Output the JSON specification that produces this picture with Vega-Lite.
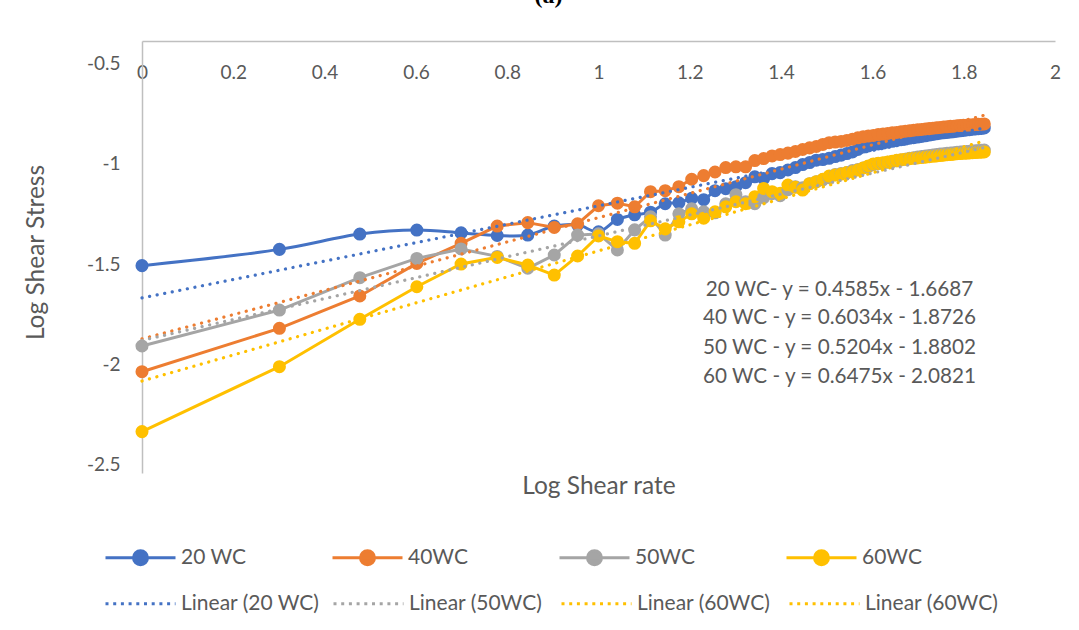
{
  "$schema": "https://vega.github.io/schema/vega-lite/v6.json",
  "width": 913,
  "height": 432,
  "autosize": {"type": "none"},
  "padding": {"left": 142, "top": 41, "right": 24, "bottom": 157},
  "background": "white",
  "title": {"text": "(a)", "font": "Liberation Serif", "fontWeight": "bold", "fontSize": 24, "color": "#000000", "anchor": "middle", "frame": "group", "dx": -50, "offset": 14, "baseline": "alphabetic"},
  "datasets": {
    "main": [
      {"x":0,"20 WC":-1.508,"40WC":-2.036,"50WC":-1.908,"60WC":-2.334},
      {"x":0.30103,"20 WC":-1.427,"40WC":-1.820,"50WC":-1.729,"60WC":-2.011},
      {"x":0.47712,"20 WC":-1.351,"40WC":-1.659,"50WC":-1.568,"60WC":-1.775},
      {"x":0.60206,"20 WC":-1.331,"40WC":-1.497,"50WC":-1.472,"60WC":-1.613},
      {"x":0.69897,"20 WC":-1.345,"40WC":-1.397,"50WC":-1.425,"60WC":-1.5},
      {"x":0.77815,"20 WC":-1.358,"40WC":-1.311,"50WC":-1.462,"60WC":-1.467},
      {"x":0.8451,"20 WC":-1.356,"40WC":-1.294,"50WC":-1.521,"60WC":-1.505},
      {"x":0.90309,"20 WC":-1.311,"40WC":-1.318,"50WC":-1.455,"60WC":-1.555},
      {"x":0.95424,"20 WC":-1.305,"40WC":-1.3,"50WC":-1.356,"60WC":-1.46},
      {"x":1,"20 WC":-1.34,"40WC":-1.21,"50WC":-1.35,"60WC":-1.36},
      {"x":1.04139,"20 WC":-1.278,"40WC":-1.197,"50WC":-1.43,"60WC":-1.389},
      {"x":1.07918,"20 WC":-1.255,"40WC":-1.215,"50WC":-1.33,"60WC":-1.397},
      {"x":1.11394,"20 WC":-1.242,"40WC":-1.14,"50WC":-1.265,"60WC":-1.285},
      {"x":1.14613,"20 WC":-1.2,"40WC":-1.135,"50WC":-1.356,"60WC":-1.325},
      {"x":1.17609,"20 WC":-1.195,"40WC":-1.115,"50WC":-1.25,"60WC":-1.29},
      {"x":1.20412,"20 WC":-1.173,"40WC":-1.078,"50WC":-1.225,"60WC":-1.25},
      {"x":1.23045,"20 WC":-1.18,"40WC":-1.06,"50WC":-1.24,"60WC":-1.272},
      {"x":1.25527,"20 WC":-1.135,"40WC":-1.042,"50WC":-1.245,"60WC":-1.24},
      {"x":1.27875,"20 WC":-1.125,"40WC":-1.02,"50WC":-1.2,"60WC":-1.215},
      {"x":1.30103,"20 WC":-1.115,"40WC":-1.016,"50WC":-1.155,"60WC":-1.19},
      {"x":1.32222,"20 WC":-1.095,"40WC":-1.016,"50WC":-1.19,"60WC":-1.2},
      {"x":1.34242,"20 WC":-1.066,"40WC":-0.985,"50WC":-1.2,"60WC":-1.165},
      {"x":1.36173,"20 WC":-1.075,"40WC":-0.975,"50WC":-1.17,"60WC":-1.124},
      {"x":1.38021,"20 WC":-1.05,"40WC":-0.962,"50WC":-1.15,"60WC":-1.14},
      {"x":1.39794,"20 WC":-1.045,"40WC":-0.955,"50WC":-1.16,"60WC":-1.148},
      {"x":1.41497,"20 WC":-1.032,"40WC":-0.948,"50WC":-1.13,"60WC":-1.107},
      {"x":1.43136,"20 WC":-1.02,"40WC":-0.94,"50WC":-1.115,"60WC":-1.118},
      {"x":1.44716,"20 WC":-1.005,"40WC":-0.93,"50WC":-1.12,"60WC":-1.132},
      {"x":1.4624,"20 WC":-0.995,"40WC":-0.922,"50WC":-1.1,"60WC":-1.1},
      {"x":1.47712,"20 WC":-0.983,"40WC":-0.915,"50WC":-1.09,"60WC":-1.09},
      {"x":1.49136,"20 WC":-0.98,"40WC":-0.905,"50WC":-1.08,"60WC":-1.078},
      {"x":1.50515,"20 WC":-0.974,"40WC":-0.896,"50WC":-1.07,"60WC":-1.062},
      {"x":1.51851,"20 WC":-0.965,"40WC":-0.893,"50WC":-1.055,"60WC":-1.057},
      {"x":1.53148,"20 WC":-0.958,"40WC":-0.89,"50WC":-1.05,"60WC":-1.052},
      {"x":1.54407,"20 WC":-0.95,"40WC":-0.885,"50WC":-1.045,"60WC":-1.045},
      {"x":1.5563,"20 WC":-0.942,"40WC":-0.879,"50WC":-1.035,"60WC":-1.041},
      {"x":1.5682,"20 WC":-0.93,"40WC":-0.872,"50WC":-1.03,"60WC":-1.032},
      {"x":1.57978,"20 WC":-0.918,"40WC":-0.867,"50WC":-1.022,"60WC":-1.022},
      {"x":1.59106,"20 WC":-0.912,"40WC":-0.863,"50WC":-1.015,"60WC":-1.012},
      {"x":1.60206,"20 WC":-0.906,"40WC":-0.86,"50WC":-1.005,"60WC":-1.002},
      {"x":1.61278,"20 WC":-0.902,"40WC":-0.856,"50WC":-1.0,"60WC":-0.999},
      {"x":1.62325,"20 WC":-0.898,"40WC":-0.853,"50WC":-0.998,"60WC":-0.996},
      {"x":1.63347,"20 WC":-0.893,"40WC":-0.85,"50WC":-0.993,"60WC":-0.992},
      {"x":1.64345,"20 WC":-0.889,"40WC":-0.847,"50WC":-0.99,"60WC":-0.988},
      {"x":1.65321,"20 WC":-0.885,"40WC":-0.845,"50WC":-0.986,"60WC":-0.984},
      {"x":1.66276,"20 WC":-0.881,"40WC":-0.842,"50WC":-0.982,"60WC":-0.981},
      {"x":1.6721,"20 WC":-0.878,"40WC":-0.839,"50WC":-0.978,"60WC":-0.978},
      {"x":1.68124,"20 WC":-0.874,"40WC":-0.837,"50WC":-0.974,"60WC":-0.976},
      {"x":1.6902,"20 WC":-0.871,"40WC":-0.834,"50WC":-0.971,"60WC":-0.974},
      {"x":1.69897,"20 WC":-0.868,"40WC":-0.832,"50WC":-0.968,"60WC":-0.972},
      {"x":1.70757,"20 WC":-0.865,"40WC":-0.83,"50WC":-0.965,"60WC":-0.97},
      {"x":1.716,"20 WC":-0.862,"40WC":-0.828,"50WC":-0.962,"60WC":-0.968},
      {"x":1.72428,"20 WC":-0.858,"40WC":-0.826,"50WC":-0.96,"60WC":-0.966},
      {"x":1.73239,"20 WC":-0.855,"40WC":-0.824,"50WC":-0.958,"60WC":-0.964},
      {"x":1.74036,"20 WC":-0.852,"40WC":-0.822,"50WC":-0.955,"60WC":-0.962},
      {"x":1.74819,"20 WC":-0.849,"40WC":-0.82,"50WC":-0.953,"60WC":-0.96},
      {"x":1.75587,"20 WC":-0.847,"40WC":-0.818,"50WC":-0.951,"60WC":-0.958},
      {"x":1.76343,"20 WC":-0.845,"40WC":-0.817,"50WC":-0.949,"60WC":-0.956},
      {"x":1.77085,"20 WC":-0.843,"40WC":-0.815,"50WC":-0.947,"60WC":-0.955},
      {"x":1.77815,"20 WC":-0.841,"40WC":-0.814,"50WC":-0.946,"60WC":-0.953},
      {"x":1.78533,"20 WC":-0.839,"40WC":-0.812,"50WC":-0.944,"60WC":-0.951},
      {"x":1.79239,"20 WC":-0.837,"40WC":-0.811,"50WC":-0.943,"60WC":-0.95},
      {"x":1.79934,"20 WC":-0.835,"40WC":-0.81,"50WC":-0.941,"60WC":-0.949},
      {"x":1.80618,"20 WC":-0.833,"40WC":-0.809,"50WC":-0.94,"60WC":-0.948},
      {"x":1.81291,"20 WC":-0.831,"40WC":-0.808,"50WC":-0.939,"60WC":-0.947},
      {"x":1.81954,"20 WC":-0.829,"40WC":-0.807,"50WC":-0.937,"60WC":-0.946},
      {"x":1.82607,"20 WC":-0.828,"40WC":-0.806,"50WC":-0.936,"60WC":-0.945},
      {"x":1.83251,"20 WC":-0.826,"40WC":-0.805,"50WC":-0.935,"60WC":-0.944},
      {"x":1.83885,"20 WC":-0.825,"40WC":-0.804,"50WC":-0.934,"60WC":-0.943},
      {"x":1.8451,"20 WC":-0.823,"40WC":-0.803,"50WC":-0.933,"60WC":-0.942}
    ],
    "trend": [
      {"x":0,"v":-1.6687,"t":"Linear (20 WC)"},{"x":1.8451,"v":-0.8227,"t":"Linear (20 WC)"},
      {"x":0,"v":-1.8726,"t":"Linear (40WC)"},{"x":1.8451,"v":-0.7593,"t":"Linear (40WC)"},
      {"x":0,"v":-1.8802,"t":"Linear (50WC)"},{"x":1.8451,"v":-0.9200,"t":"Linear (50WC)"},
      {"x":0,"v":-2.0821,"t":"Linear (60WC)"},{"x":1.8451,"v":-0.8874,"t":"Linear (60WC)"}
    ],
    "eq": [
      {"x":1.528,"v":-1.629,"label":"20 WC- y = 0.4585x - 1.6687"},
      {"x":1.528,"v":-1.770,"label":"40 WC - y = 0.6034x - 1.8726"},
      {"x":1.528,"v":-1.919,"label":"50 WC - y = 0.5204x - 1.8802"},
      {"x":1.528,"v":-2.061,"label":"60 WC - y = 0.6475x - 2.0821"}
    ]
  },
  "encoding": {
    "y": {"field": "v", "type": "quantitative",
      "scale": {"domain": [-2.54, -0.39], "nice": false, "zero": false},
      "axis": {"title": "Log Shear Stress", "values": [-0.5,-1,-1.5,-2,-2.5], "labelExpr": "'' + datum.value", "labelPadding": 22, "titlePadding": 38, "titleY": 211, "labelFlush": false, "labelOverlap": false}}
  },
  "layer": [
    {
      "data": {"name": "main"},
      "transform": [{"fold": ["20 WC","40WC","50WC","60WC"], "as": ["series","v"]}, {"filter": "datum.series == '20 WC'"}],
      "mark": {"type": "line", "interpolate": "catmull-rom", "strokeWidth": 3, "point": {"filled": true, "size": 170, "opacity": 1}},
      "encoding": {
        "x": {"field": "x", "type": "quantitative", "scale": {"domain": [0, 2], "nice": false, "zero": false},
          "axis": {"orient": "top", "title": null, "values": [0,0.2,0.4,0.6,0.8,1,1.2,1.4,1.6,1.8,2], "labelExpr": "'' + datum.value", "labelPadding": -31, "labelBaseline": "middle", "labelFlush": false, "labelOverlap": false, "minExtent": 0, "maxExtent": 0}},
        "color": {"field": "series", "type": "nominal",
          "scale": {"domain": ["20 WC","40WC","50WC","60WC"], "range": ["#4472C4","#ED7D31","#A5A5A5","#FFC000"]},
          "legend": {"orient": "none", "legendX": -38, "legendY": 480, "direction": "horizontal", "columns": 4, "title": null,
            "symbolType": "M-1,0H1M0.2,0A0.2,0.2,0,1,1,-0.2,0A0.2,0.2,0,1,1,0.2,0Z", "symbolSize": 4900, "symbolStrokeWidth": 3,
            "labelFontSize": 21, "labelFont": "Lato", "labelColor": "#595959", "columnPadding": 79, "labelOffset": 4, "gridAlign": "all", "padding": 0,
            "encode": {"symbols": {"update": {"fill": {"scale": "color", "field": "value"}, "stroke": {"scale": "color", "field": "value"}, "opacity": {"value": 1}}}}}}
      }
    },
    {
      "data": {"name": "main"},
      "transform": [{"fold": ["20 WC","40WC","50WC","60WC"], "as": ["series","v"]}, {"filter": "datum.series != '20 WC'"}],
      "mark": {"type": "line", "strokeWidth": 3, "point": {"filled": true, "size": 170, "opacity": 1}},
      "encoding": {
        "x": {"field": "x", "type": "quantitative", "axis": null},
        "color": {"field": "series", "type": "nominal"}
      }
    },
    {
      "data": {"name": "trend"},
      "mark": {"type": "line", "strokeWidth": 3.2, "strokeDash": [0.1, 7.6], "strokeCap": "round"},
      "encoding": {
        "x": {"field": "x", "type": "quantitative", "axis": null},
        "stroke": {"field": "t", "type": "nominal",
          "scale": {"domain": ["Linear (20 WC)","Linear (40WC)","Linear (50WC)","Linear (60WC)","Linear (60WC) "], "range": ["#4472C4","#ED7D31","#A5A5A5","#FFC000","#FFC000"]},
          "legend": {"orient": "none", "legendX": -38, "legendY": 526, "direction": "horizontal", "columns": 4, "title": null,
            "values": ["Linear (20 WC)","Linear (50WC)","Linear (60WC)","Linear (60WC) "],
            "symbolType": "M-1,0H1", "symbolSize": 4900, "symbolStrokeWidth": 3, "symbolDash": [3, 4.7],
            "labelFontSize": 21, "labelFont": "Lato", "labelColor": "#595959", "columnPadding": 7, "labelOffset": 4, "gridAlign": "all", "padding": 0}}
      }
    },
    {
      "data": {"name": "eq"},
      "mark": {"type": "text", "align": "center", "baseline": "middle", "fontSize": 20.7, "font": "Lato", "color": "#595959"},
      "encoding": {
        "x": {"field": "x", "type": "quantitative",
          "axis": {"orient": "bottom", "title": "Log Shear rate", "labels": false, "ticks": false, "domain": false, "titlePadding": 1}},
        "text": {"field": "label"}
      }
    }
  ],
  "resolve": {"axis": {"x": "independent"}},
  "config": {
    "font": "Lato",
    "view": {"stroke": null},
    "axis": {"labelColor": "#595959", "titleColor": "#595959", "labelFont": "Lato", "titleFont": "Lato", "grid": false, "ticks": false,
      "domainColor": "#BFBFBF", "domainWidth": 1.5, "titleFontWeight": "normal", "labelFontSize": 19, "titleFontSize": 24.5}
  }
}
